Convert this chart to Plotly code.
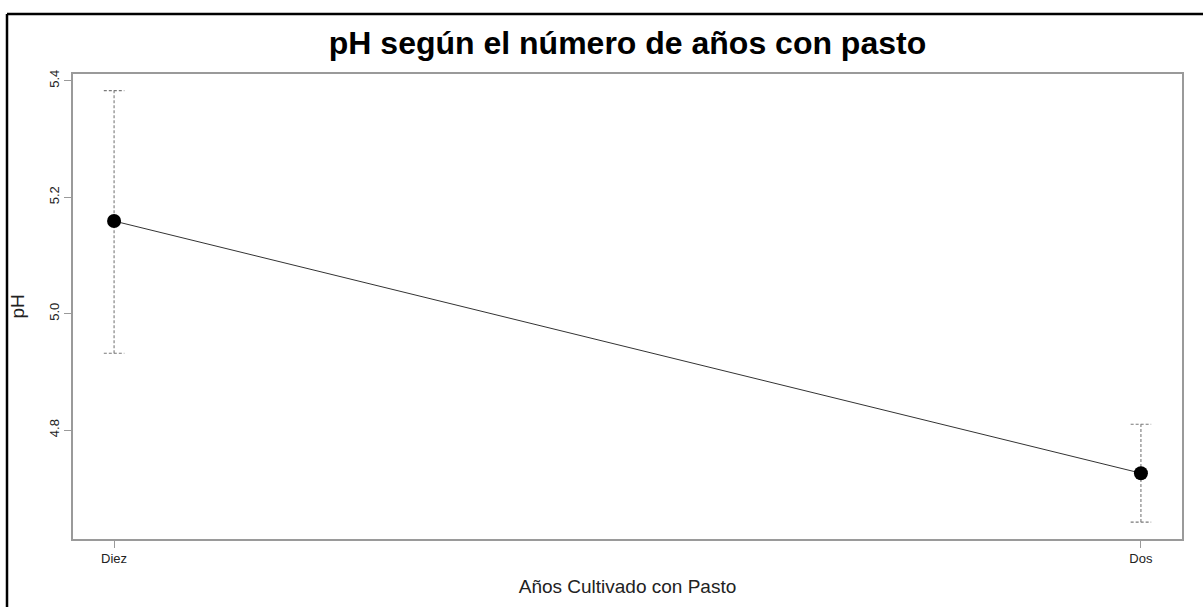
import plotly.graph_objects as go

# Mean pH by years under pasture, with interval bounds
categories = ["Diez", "Dos"]
ph_mean = [5.159, 4.726]
ph_upper = [5.383, 4.810]
ph_lower = [4.932, 4.642]
y_ticks = [4.8, 5.0, 5.2, 5.4]

xpos = [1, 2]
cap = 0.01  # half-width of whisker caps in x units

fig = go.Figure()

# dashed interval bars with caps
for x, lo, hi in zip(xpos, ph_lower, ph_upper):
    fig.add_trace(go.Scatter(
        x=[x, x, None, x - cap, x + cap, None, x - cap, x + cap],
        y=[lo, hi, None, hi, hi, None, lo, lo],
        mode="lines",
        line=dict(color="#7a7a7a", width=1.1, dash="3px,2px"),
        hoverinfo="skip", showlegend=False,
    ))

# line joining the means
fig.add_trace(go.Scatter(
    x=xpos, y=ph_mean, mode="lines+markers",
    line=dict(color="#333333", width=1),
    marker=dict(color="black", size=14),
    showlegend=False,
))

FONT = "Liberation Sans, Arial, sans-serif"
axis_font = dict(family=FONT, size=13, color="#222222")

fig.update_layout(
    width=1203, height=607,
    margin=dict(l=73, r=21, t=74, b=68),
    paper_bgcolor="white", plot_bgcolor="white",
    title=dict(
        text="<b>pH según el número de años con pasto</b>",
        x=(73 + 1182) / 2 / 1203, xanchor="center",
        y=1 - 43 / 607, yanchor="middle",
        font=dict(family=FONT, size=32, color="black"),
    ),
    xaxis=dict(
        range=[0.96, 2.04], tickmode="array", tickvals=xpos, ticktext=categories,
        showgrid=False, zeroline=False,
        showline=True, mirror=True, linecolor="#9a9a9a", linewidth=1.5,
        ticks="outside", ticklen=7, tickcolor="#9a9a9a", tickwidth=1,
        tickfont=axis_font,
        title=dict(text="Años Cultivado con Pasto", standoff=14,
                   font=dict(family=FONT, size=19, color="#222222")),
    ),
    yaxis=dict(
        range=[4.613, 5.4115], tickmode="array", tickvals=y_ticks,
        ticktext=[f"{v:.1f}" for v in y_ticks], tickangle=-90,
        showgrid=False, zeroline=False,
        showline=True, mirror=True, linecolor="#9a9a9a", linewidth=1.5,
        ticks="outside", ticklen=7, tickcolor="#9a9a9a", tickwidth=1,
        tickfont=axis_font,
    ),
    annotations=[dict(
        text="pH", textangle=-90, showarrow=False,
        xref="paper", yref="paper", x=(17 - 73) / 1109, y=0.5,
        xanchor="center", yanchor="middle",
        font=dict(family=FONT, size=19, color="#222222"),
    )],
    shapes=[
        # outer frame, left and top edges
        dict(type="line", xref="paper", yref="paper",
             x0=(7 - 73) / 1109, x1=(7 - 73) / 1109,
             y0=-0.5, y1=(539 - 14) / 465,
             line=dict(color="black", width=2.5), layer="below"),
        dict(type="line", xref="paper", yref="paper",
             x0=(7 - 73) / 1109, x1=1.2,
             y0=(539 - 14) / 465, y1=(539 - 14) / 465,
             line=dict(color="black", width=2.5), layer="below"),
    ],
)

fig.write_html("out.html")
